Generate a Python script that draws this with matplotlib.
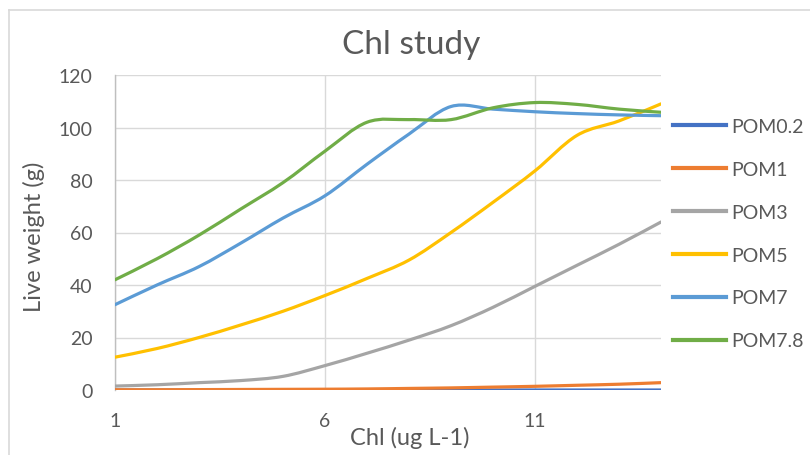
import matplotlib
matplotlib.use("Agg")
import matplotlib.pyplot as plt
from matplotlib.path import Path
from matplotlib.patches import PathPatch
from matplotlib.lines import Line2D

# chlorophyll categories on the x axis
chl = [1, 2, 3, 4, 5, 6, 7, 8, 9, 10, 11, 12, 13, 14]

# live weight (g) per series
pom02 = [0.0, 0.0, 0.0, 0.0, 0.0, 0.0, 0.0, 0.0, 0.0, 0.0, 0.0, 0.0, 0.0, 0.0]
pom1 = [0.1, 0.1, 0.15, 0.2, 0.25, 0.3, 0.4, 0.6, 0.8, 1.1, 1.4, 1.8, 2.2, 2.8]
pom3 = [1.5, 2.0, 2.8, 3.6, 5.2, 9.3, 14.0, 19.0, 24.5, 31.5, 39.5, 47.5, 55.5, 64.0]
pom5 = [12.5, 15.8, 20.0, 24.8, 30.0, 36.0, 42.5, 49.5, 60.0, 71.5, 83.5, 97.0, 102.5, 109.0]
pom7 = [32.5, 40.0, 47.0, 56.0, 65.5, 74.0, 86.0, 97.5, 108.0, 107.0, 106.0, 105.3, 104.8, 104.5]
pom78 = [42.0, 50.0, 59.0, 69.0, 79.0, 91.0, 102.0, 103.0, 103.0, 107.5, 109.5, 108.8, 107.0, 105.8]

labels = ["POM0.2", "POM1", "POM3", "POM5", "POM7", "POM7.8"]
series = [pom02, pom1, pom3, pom5, pom7, pom78]
colors = ["#4472C4", "#ED7D31", "#A5A5A5", "#FFC000", "#5B9BD5", "#70AD47"]

x_ticks = [1, 6, 11]
y_ticks = [0, 20, 40, 60, 80, 100, 120]

text_col = "#595959"
plt.rcParams["font.family"] = ["Lato", "DejaVu Sans"]


def smooth_path(xs, ys):
    # Excel-style smoothed line: cubic bezier through every point
    n = len(xs)
    verts = [(xs[0], ys[0])]
    codes = [Path.MOVETO]
    for i in range(n - 1):
        x0, y0 = xs[max(i - 1, 0)], ys[max(i - 1, 0)]
        x1, y1 = xs[i], ys[i]
        x2, y2 = xs[i + 1], ys[i + 1]
        x3, y3 = xs[min(i + 2, n - 1)], ys[min(i + 2, n - 1)]
        c1 = (x1 + (x2 - x0) / 6, y1 + (y2 - y0) / 6)
        c2 = (x2 - (x3 - x1) / 6, y2 - (y3 - y1) / 6)
        verts += [c1, c2, (x2, y2)]
        codes += [Path.CURVE4] * 3
    return Path(verts, codes)


fig = plt.figure(figsize=(8.1, 4.56), dpi=100)
ax = fig.add_axes([115 / 810, 1 - 391 / 456, (661 - 115) / 810, (391 - 76) / 456])

for ys, col in zip(series, colors):
    patch = PathPatch(smooth_path(chl, ys), fill=False, edgecolor=col,
                      lw=2.3, capstyle="round", joinstyle="round", zorder=3)
    ax.add_patch(patch)

ax.set_xlim(chl[0], chl[-1])
ax.set_ylim(0, 120)
ax.set_xticks(x_ticks)
ax.set_yticks(y_ticks)
ax.grid(True, color="#D9D9D9", lw=1.0)
ax.set_axisbelow(True)
for side in ["top", "right", "bottom"]:
    ax.spines[side].set_visible(False)
ax.spines["left"].set_color("#BFBFBF")
ax.spines["left"].set_linewidth(1.0)
ax.tick_params(length=0, labelsize=14, colors=text_col)
ax.tick_params(axis="y", pad=16)
ax.tick_params(axis="x", pad=16)

fig.text(411 / 810, 1 - 45 / 456, "Chl study", fontsize=24, color=text_col,
         ha="center", va="center")
fig.text(34 / 810, 1 - 237 / 456, "Live weight (g)", fontsize=17, color=text_col,
         ha="center", va="center", rotation=90)
fig.text(410 / 810, 1 - 438 / 456, "Chl (ug L-1)", fontsize=17, color=text_col,
         ha="center", va="center")

handles = [Line2D([], [], color=c, lw=3) for c in colors]
fig.legend(handles, labels, loc="upper left", bbox_to_anchor=(673 / 810, 1 - 119 / 456),
           frameon=False, fontsize=14, labelcolor=text_col, handlelength=2.7,
           handletextpad=0.3, labelspacing=1.33, borderpad=0, borderaxespad=0)

# outer chart border (only left and top edges visible in the crop)
fig.add_artist(Line2D([8.5 / 810, 8.5 / 810], [0, 1 - 10.5 / 456], color="#D9D9D9", lw=1.2))
fig.add_artist(Line2D([8.5 / 810, 1], [1 - 10.5 / 456, 1 - 10.5 / 456], color="#D9D9D9", lw=1.2))

fig.savefig("out.png", dpi=100)
